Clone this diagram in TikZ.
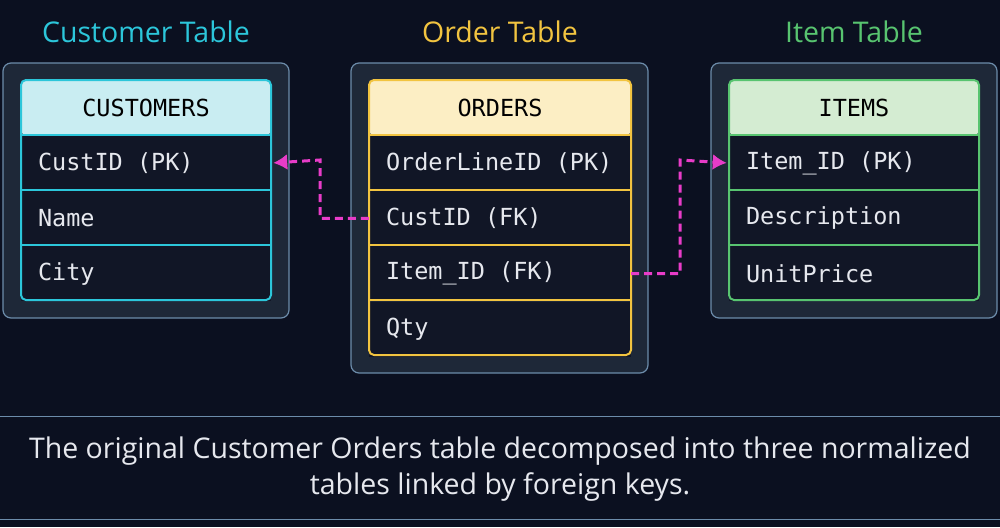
\documentclass[tikz,border=0pt]{standalone}
\usepackage{fontspec}
\setmainfont{Open Sans}
\newfontfamily\codefont{DejaVu Sans Mono}
\newcommand{\gap}{\hspace{0.602em}}
\usetikzlibrary{positioning,arrows.meta}
\definecolor{bgcol}{HTML}{0B1020}
\definecolor{panelcol}{HTML}{1E2838}
\definecolor{panelline}{HTML}{6C8CAA}
\definecolor{rowcol}{HTML}{111626}
\definecolor{cyanline}{HTML}{2CC6DA}
\definecolor{cyanhead}{HTML}{C9EDF2}
\definecolor{goldline}{HTML}{F2C440}
\definecolor{goldhead}{HTML}{FCEEC4}
\definecolor{greenline}{HTML}{58C470}
\definecolor{greenhead}{HTML}{D4ECD2}
\definecolor{linkcol}{HTML}{E83CC8}
\definecolor{textcol}{HTML}{E6E8EE}
\tikzset{
  panel/.style={draw=panelline,fill=panelcol,line width=1.2pt,rounded corners=8pt},
  headbox/.style={minimum width=#1,minimum height=55pt,font=\codefont\fontsize{23.5}{23.5}\selectfont,text=black},
  rowbox/.style={minimum width=#1,minimum height=55pt,fill=rowcol,inner xsep=17pt,
    text width=#1-34pt,align=left,font=\codefont\fontsize{23.5}{23.5}\selectfont,text=textcol},
  title/.style={font=\fontsize{28.5}{28.5}\selectfont},
  link/.style={draw=linkcol,line width=3pt,dashed,dash pattern=on 8pt off 5pt,-{Latex[length=14pt,width=16pt]}}
}
\begin{document}
\begin{tikzpicture}[x=1pt,y=-1pt]
  \fill[bgcol] (0,0) rectangle (1000,527);
  \useasboundingbox (0,0) rectangle (1000,527);

  % panels
  \draw[panel] (3,63) rectangle (289,318);
  \draw[panel] (351,63) rectangle (648,373);
  \draw[panel] (711,63) rectangle (997,318);

  % titles
  \node[title,text=cyanline] (ctitle) at (146,32) {Customer Table};
  \node[title,text=goldline] (otitle) at (500,32) {Order Table};
  \node[title,text=greenline] (ititle) at (854,32) {Item Table};

  % customers
  \fill[cyanhead,rounded corners=5pt] (21,80) rectangle (271,135);
  \node[headbox=250pt] (chead) at (146,107.5) {CUSTOMERS};
  \node[rowbox=250pt,below=0pt of chead] (c1) {CustID\gap(PK)};
  \node[rowbox=250pt,below=0pt of c1] (c2) {Name};
  \node[rowbox=250pt,below=0pt of c2] (c3) {City};
  \draw[cyanline,line width=2pt,rounded corners=5pt] (21,80) rectangle (271,300);
  \foreach \y in {135,190,245} \draw[cyanline,line width=2pt] (21,\y) -- (271,\y);

  % orders
  \fill[goldhead,rounded corners=5pt] (369,80) rectangle (631,135);
  \node[headbox=262pt] (ohead) at (500,107.5) {ORDERS};
  \node[rowbox=262pt,below=0pt of ohead] (o1) {OrderLineID\gap(PK)};
  \node[rowbox=262pt,below=0pt of o1] (o2) {CustID\gap(FK)};
  \node[rowbox=262pt,below=0pt of o2] (o3) {Item\_ID\gap(FK)};
  \node[rowbox=262pt,below=0pt of o3] (o4) {Qty};
  \draw[goldline,line width=2pt,rounded corners=5pt] (369,80) rectangle (631,355);
  \foreach \y in {135,190,245,300} \draw[goldline,line width=2pt] (369,\y) -- (631,\y);

  % items
  \fill[greenhead,rounded corners=5pt] (729,80) rectangle (979,135);
  \node[headbox=250pt] (ihead) at (854,107.5) {ITEMS};
  \node[rowbox=250pt,below=0pt of ihead] (i1) {Item\_ID\gap(PK)};
  \node[rowbox=250pt,below=0pt of i1] (i2) {Description};
  \node[rowbox=250pt,below=0pt of i2] (i3) {UnitPrice};
  \draw[greenline,line width=2pt,rounded corners=5pt] (729,80) rectangle (979,300);
  \foreach \y in {135,190,245} \draw[greenline,line width=2pt] (729,\y) -- (979,\y);

  % foreign keys
  \draw[link] (o2.west) -| (320,160) -- ([xshift=2pt]c1.east);
  \draw[link] (o3.east) -| (680,160) -- ([xshift=-2pt]i1.west);

  % caption
  \draw[panelline,line width=1pt] (0,416) -- (1000,416);
  \draw[panelline,line width=1pt] (0,519) -- (1000,519);
  \node[font=\fontsize{28.5}{36}\selectfont,text=textcol,align=center] (caption) at (500,469)
    {The original Customer Orders table decomposed into three normalized\\tables linked by foreign keys.};
\end{tikzpicture}
\end{document}
